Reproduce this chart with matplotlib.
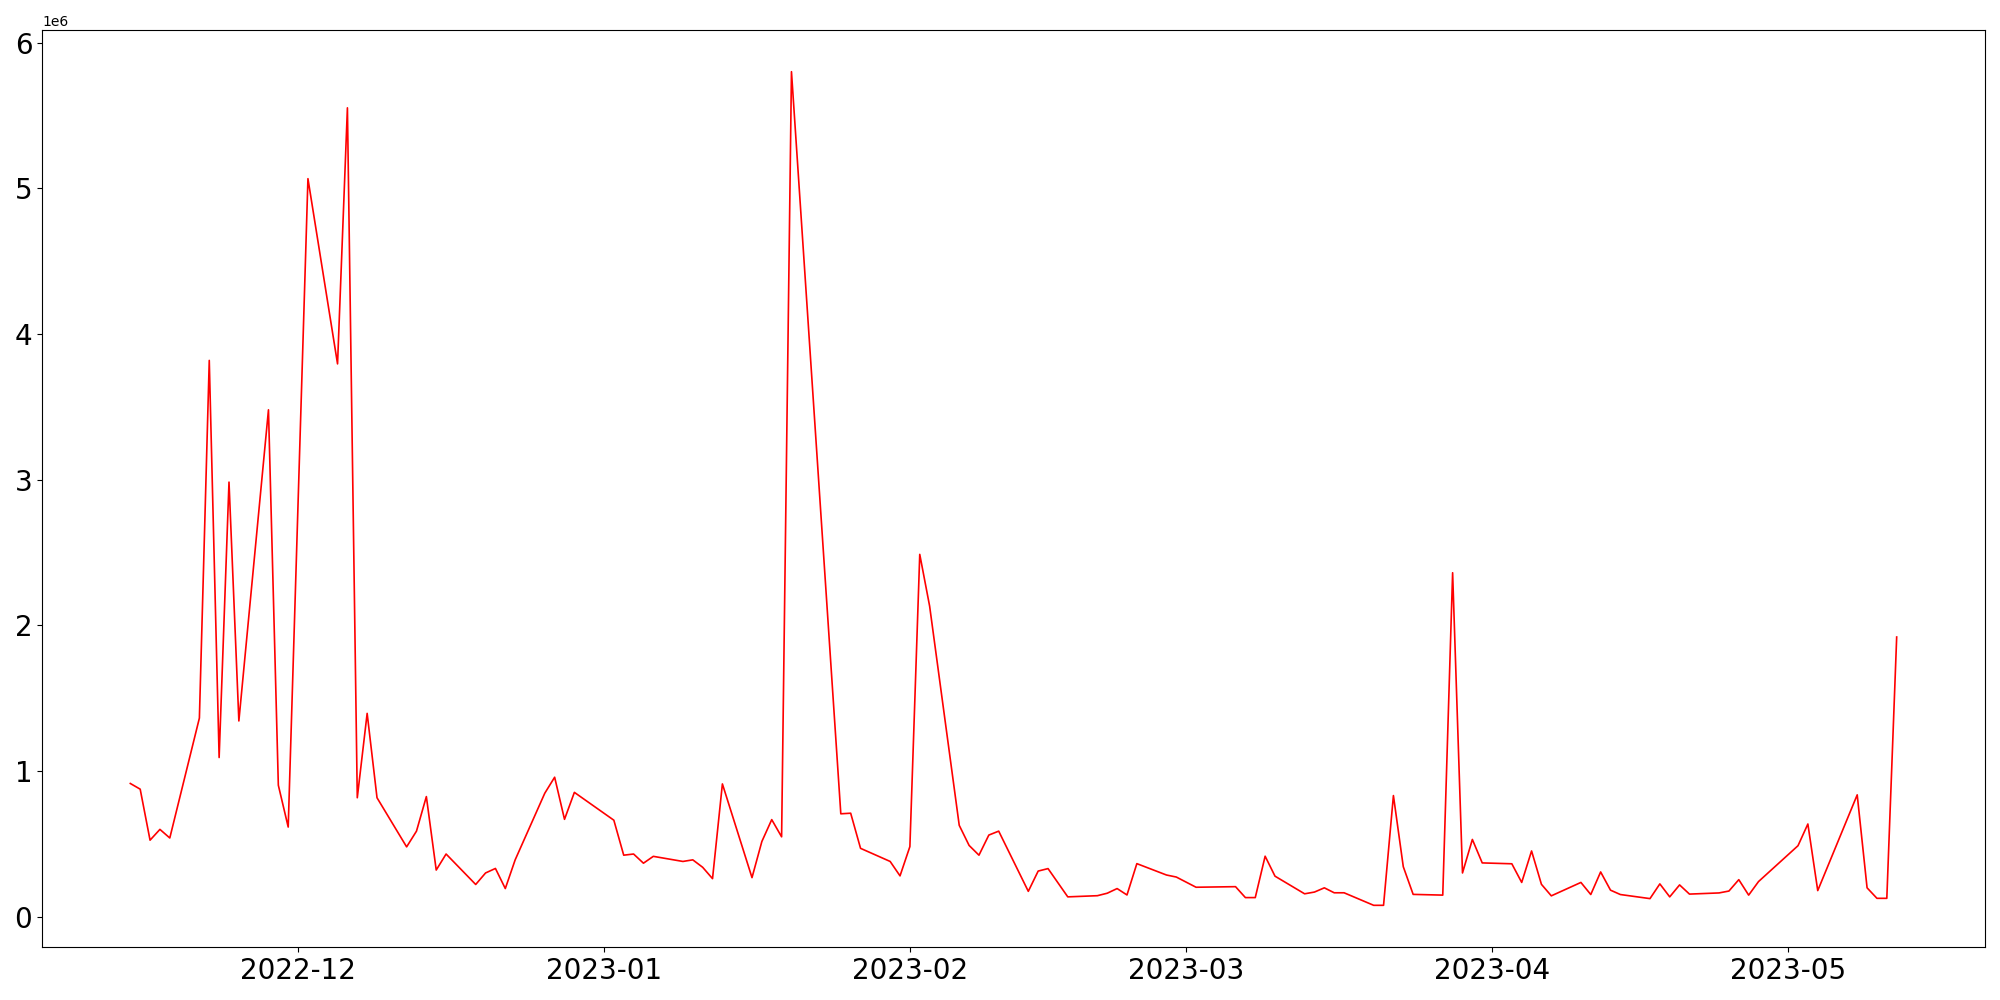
import pandas as pd
import matplotlib
matplotlib.use("Agg")
import matplotlib.pyplot as plt

# trading days shown in the chart
dates = [
    "2022-11-14", "2022-11-15", "2022-11-16", "2022-11-17", "2022-11-18",
    "2022-11-21", "2022-11-22", "2022-11-23", "2022-11-24", "2022-11-25",
    "2022-11-28", "2022-11-29", "2022-11-30", "2022-12-02",
    "2022-12-05", "2022-12-06", "2022-12-07", "2022-12-08", "2022-12-09",
    "2022-12-12", "2022-12-13", "2022-12-14", "2022-12-15", "2022-12-16",
    "2022-12-19", "2022-12-20", "2022-12-21", "2022-12-22", "2022-12-23",
    "2022-12-26", "2022-12-27", "2022-12-28", "2022-12-29",
    "2023-01-02", "2023-01-03", "2023-01-04", "2023-01-05", "2023-01-06",
    "2023-01-09", "2023-01-10", "2023-01-11", "2023-01-12", "2023-01-13",
    "2023-01-16", "2023-01-17", "2023-01-18", "2023-01-19", "2023-01-20",
    "2023-01-25", "2023-01-26", "2023-01-27",
    "2023-01-30", "2023-01-31", "2023-02-01", "2023-02-02", "2023-02-03",
    "2023-02-06", "2023-02-07", "2023-02-08", "2023-02-09", "2023-02-10",
    "2023-02-13", "2023-02-14", "2023-02-15", "2023-02-17",
    "2023-02-20", "2023-02-21", "2023-02-22", "2023-02-23", "2023-02-24",
    "2023-02-27", "2023-02-28", "2023-03-02",
    "2023-03-06", "2023-03-07", "2023-03-08", "2023-03-09", "2023-03-10",
    "2023-03-13", "2023-03-14", "2023-03-15", "2023-03-16", "2023-03-17",
    "2023-03-20", "2023-03-21", "2023-03-22", "2023-03-23", "2023-03-24",
    "2023-03-27", "2023-03-28", "2023-03-29", "2023-03-30", "2023-03-31",
    "2023-04-03", "2023-04-04", "2023-04-05", "2023-04-06", "2023-04-07",
    "2023-04-10", "2023-04-11", "2023-04-12", "2023-04-13", "2023-04-14",
    "2023-04-17", "2023-04-18", "2023-04-19", "2023-04-20", "2023-04-21",
    "2023-04-24", "2023-04-25", "2023-04-26", "2023-04-27", "2023-04-28",
    "2023-05-02", "2023-05-03", "2023-05-04",
    "2023-05-08", "2023-05-09", "2023-05-10", "2023-05-11", "2023-05-12",
]

# values in millions
values_m = [
    0.916, 0.877, 0.527, 0.601, 0.542,
    1.365, 3.819, 1.094, 2.984, 1.345,
    3.480, 0.904, 0.617, 5.066,
    3.795, 5.552, 0.818, 1.397, 0.818,
    0.481, 0.589, 0.826, 0.322, 0.432,
    0.223, 0.302, 0.333, 0.195, 0.392,
    0.849, 0.959, 0.670, 0.855,
    0.664, 0.424, 0.432, 0.369, 0.416,
    0.381, 0.392, 0.341, 0.263, 0.913,
    0.270, 0.518, 0.668, 0.550, 5.800,
    0.708, 0.712, 0.471,
    0.381, 0.282, 0.483, 2.488, 2.133,
    0.629, 0.491, 0.424, 0.562, 0.589,
    0.176, 0.315, 0.332, 0.138,
    0.146, 0.163, 0.195, 0.151, 0.366,
    0.288, 0.274, 0.204,
    0.208, 0.133, 0.133, 0.417, 0.280,
    0.159, 0.171, 0.200, 0.166, 0.166,
    0.080, 0.080, 0.833, 0.345, 0.155,
    0.150, 2.362, 0.302, 0.532, 0.371,
    0.365, 0.237, 0.453, 0.224, 0.145,
    0.237, 0.154, 0.309, 0.184, 0.154,
    0.126, 0.227, 0.138, 0.220, 0.157,
    0.165, 0.178, 0.256, 0.150, 0.243,
    0.489, 0.638, 0.181,
    0.838, 0.200, 0.128, 0.128, 1.921,
]

x = pd.to_datetime(dates)
y = [v * 1e6 for v in values_m]

fig, ax = plt.subplots(figsize=(20, 10), dpi=100)
ax.plot(x, y, color="red", linewidth=1.2)

ax.tick_params(axis="both", labelsize=20)
fig.subplots_adjust(left=0.021, right=0.9925, bottom=0.053, top=0.97)

fig.savefig("out.png")
plt.close(fig)
